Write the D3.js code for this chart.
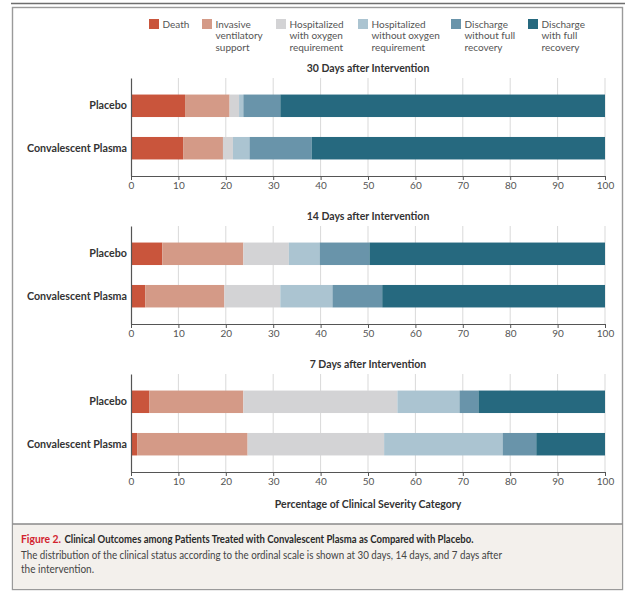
<!DOCTYPE html>
<html>
<head>
<meta charset="utf-8">
<script src="https://cdn.jsdelivr.net/npm/d3@7"></script>
<style>
  html, body { margin: 0; padding: 0; background: #fff; }
  svg { display: block; font-family: Lato, "Open Sans", sans-serif; }
</style>
</head>
<body>
<svg id="chart" width="625" height="592"></svg>
<script>
// Clinical severity categories, in stacking order (left to right)
const categories = [
  "Death",
  "Invasive ventilatory support",
  "Hospitalized with oxygen requirement",
  "Hospitalized without oxygen requirement",
  "Discharge without full recovery",
  "Discharge with full recovery"
];
const legendLines = [
  ["Death"],
  ["Invasive", "ventilatory", "support"],
  ["Hospitalized", "with oxygen", "requirement"],
  ["Hospitalized", "without oxygen", "requirement"],
  ["Discharge", "without full", "recovery"],
  ["Discharge", "with full", "recovery"]
];
const colors = ["#c9553c", "#d49a87", "#d3d3d5", "#abc4d1", "#6994aa", "#26697f"];

const groups = ["Placebo", "Convalescent Plasma"];
const panelTitles = ["30 Days after Intervention", "14 Days after Intervention", "7 Days after Intervention"];

// Percentage of patients in each category (sums to 100)
const placebo30 = [11.4, 9.4, 2.0, 0.9, 7.8, 68.5];
const plasma30  = [11.0, 8.4, 2.1, 3.5, 13.1, 61.9];
const placebo14 = [6.6, 17.1, 9.6, 6.5, 10.5, 49.7];
const plasma14  = [3.0, 16.7, 11.8, 11.0, 10.5, 47.0];
const placebo7  = [3.9, 19.8, 32.5, 13.1, 4.0, 26.7];
const plasma7   = [1.3, 23.3, 28.8, 25.0, 7.1, 14.5];

const xTicks = [0, 10, 20, 30, 40, 50, 60, 70, 80, 90, 100];

const panels = [
  { title: panelTitles[0], rows: [placebo30, plasma30] },
  { title: panelTitles[1], rows: [placebo14, plasma14] },
  { title: panelTitles[2], rows: [placebo7, plasma7] }
];

const svg = d3.select("#chart");

// Frame
svg.append("line").attr("x1", 11).attr("x2", 625).attr("y1", 3.5).attr("y2", 3.5)
  .attr("stroke", "#6e6e6e").attr("stroke-width", 1.6);
svg.append("rect").attr("x", 12.5).attr("y", 7.5).attr("width", 610).attr("height", 582)
  .attr("fill", "#fff").attr("stroke", "#9a9a9a").attr("stroke-width", 1.4);
svg.append("rect").attr("x", 13.2).attr("y", 524).attr("width", 608.6).attr("height", 65)
  .attr("fill", "#f3f0ec");
svg.append("line").attr("x1", 12.5).attr("x2", 622.5).attr("y1", 524).attr("y2", 524)
  .attr("stroke", "#8a8a8a").attr("stroke-width", 1.4);

// Legend
const legendX = [149, 202, 276, 358, 451, 528];
const legend = svg.append("g");
categories.forEach((c, i) => {
  const g = legend.append("g").attr("transform", `translate(${legendX[i]},19)`);
  g.append("rect").attr("width", 10).attr("height", 10).attr("fill", colors[i]);
  const t = g.append("text").attr("x", 13.5).attr("y", 8.5)
    .attr("font-size", 10).attr("fill", "#555");
  legendLines[i].forEach((ln, j) => {
    t.append("tspan").attr("x", 13.5).attr("dy", j === 0 ? 0 : 11.8).text(ln);
  });
});

// Shared scales
const plotLeft = 131, plotRight = 605, plotH = 98;
const x = d3.scaleLinear().domain([0, 100]).range([plotLeft, plotRight]);
const y = d3.scaleBand().domain(groups).range([0, plotH]).paddingInner(0.47).paddingOuter(0.39);

const panelTops = [78, 226, 374];

panels.forEach((p, pi) => {
  const g = svg.append("g").attr("transform", `translate(0,${panelTops[pi]})`);

  g.append("text").attr("x", (plotLeft + plotRight) / 2).attr("y", -6)
    .attr("text-anchor", "middle").attr("font-size", 10.5).attr("font-weight", 700)
    .attr("fill", "#333").text(p.title);

  // vertical gridlines
  g.selectAll("line.grid").data(xTicks.slice(1)).join("line")
    .attr("class", "grid")
    .attr("x1", d => x(d)).attr("x2", d => x(d))
    .attr("y1", 0).attr("y2", plotH)
    .attr("stroke", "#d9d9d9").attr("stroke-width", 1);

  // stacked bars
  p.rows.forEach((vals, ri) => {
    const stackEnds = d3.cumsum(vals);
    g.selectAll(null).data(vals.map((v, k) => ({ k, v, end: stackEnds[k] }))).join("rect")
      .attr("x", d => x(d.end - d.v))
      .attr("width", d => x(d.end) - x(d.end - d.v))
      .attr("y", y(groups[ri]))
      .attr("height", y.bandwidth())
      .attr("fill", d => colors[d.k]);
  });

  // x axis
  const xAxis = d3.axisBottom(x).tickValues(xTicks).tickSize(4).tickPadding(2).tickSizeOuter(0);
  const ax = g.append("g").attr("transform", `translate(0,${plotH})`).call(xAxis);
  ax.select(".domain").attr("stroke", "#555").attr("stroke-width", 1.2);
  ax.selectAll(".tick line").attr("stroke", "#555");
  ax.selectAll(".tick text").attr("font-size", 10).attr("fill", "#555")
    .attr("font-family", "Lato, sans-serif");

  // y axis
  const yAxis = d3.axisLeft(y).tickSize(0).tickPadding(4);
  const ay = g.append("g").attr("transform", `translate(${plotLeft},0)`).call(yAxis);
  ay.select(".domain").attr("stroke", "#555").attr("stroke-width", 1.2);
  ay.selectAll(".tick text").attr("font-size", 10.7).attr("font-weight", 700)
    .attr("fill", "#333").attr("font-family", "Lato, sans-serif");
});

// x-axis title
svg.append("text").attr("x", (plotLeft + plotRight) / 2).attr("y", 508)
  .attr("text-anchor", "middle").attr("font-size", 10.5).attr("font-weight", 700)
  .attr("fill", "#333").text("Percentage of Clinical Severity Category");

// Caption (condensed to fit the caption box width)
svg.append("text").attr("x", 21).attr("y", 543).attr("font-size", 11.5)
  .attr("font-weight", 700).attr("fill", "#d2232e")
  .attr("textLength", 40).attr("lengthAdjust", "spacingAndGlyphs")
  .text("Figure 2.");
svg.append("text").attr("x", 64.5).attr("y", 543).attr("font-size", 11.5)
  .attr("font-weight", 700).attr("fill", "#2a2a2a")
  .attr("textLength", 409).attr("lengthAdjust", "spacingAndGlyphs")
  .text("Clinical Outcomes among Patients Treated with Convalescent Plasma as Compared with Placebo.");

svg.append("text").attr("x", 21).attr("y", 559).attr("font-size", 11.5).attr("fill", "#444")
  .attr("textLength", 481).attr("lengthAdjust", "spacingAndGlyphs")
  .text("The distribution of the clinical status according to the ordinal scale is shown at 30 days, 14 days, and 7 days after");
svg.append("text").attr("x", 21).attr("y", 572.5).attr("font-size", 11.5).attr("fill", "#444")
  .attr("textLength", 73).attr("lengthAdjust", "spacingAndGlyphs")
  .text("the intervention.");
</script>
</body>
</html>
